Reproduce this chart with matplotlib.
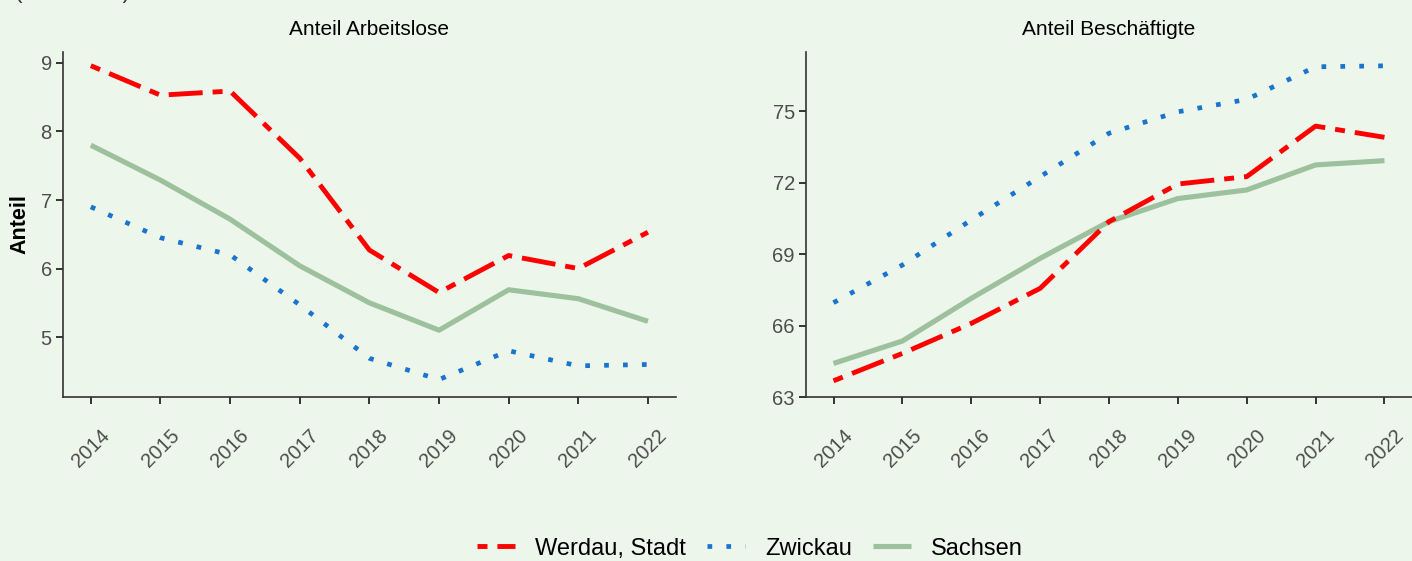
import matplotlib.pyplot as plt
from matplotlib.lines import Line2D
from matplotlib.transforms import ScaledTranslation

plt.rcParams['font.family'] = ['Liberation Sans', 'DejaVu Sans']

years = [2014, 2015, 2016, 2017, 2018, 2019, 2020, 2021, 2022]

# Anteil Arbeitslose
alo_werdau = [8.96, 8.53, 8.59, 7.61, 6.27, 5.65, 6.19, 6.00, 6.53]
alo_zwickau = [6.90, 6.45, 6.20, 5.47, 4.69, 4.38, 4.80, 4.58, 4.60]
alo_sachsen = [7.80, 7.29, 6.72, 6.04, 5.50, 5.10, 5.69, 5.56, 5.23]

# Anteil Beschäftigte
bes_werdau = [63.68, 64.83, 66.09, 67.56, 70.36, 71.94, 72.25, 74.37, 73.90]
bes_zwickau = [66.96, 68.54, 70.43, 72.25, 74.07, 74.97, 75.49, 76.86, 76.90]
bes_sachsen = [64.41, 65.35, 67.14, 68.82, 70.36, 71.33, 71.69, 72.74, 72.92]

series_names = ['Werdau, Stadt', 'Zwickau', 'Sachsen']
titles = ['Anteil Arbeitslose', 'Anteil Beschäftigte']

bg = '#EDF6EB'
red = '#FF0000'
blue = '#1874CD'
green = '#9DC09D'
dark = '#333333'
grey_txt = '#4D4D4D'

# line styles (dash lengths in units of linewidth)
red_style = dict(color=red, lw=3.5, dashes=(2.05, 2.05, 7.0, 2.05), dash_capstyle='butt')
blue_style = dict(color=blue, lw=3.4, dashes=(1, 3.0), dash_capstyle='butt')
green_style = dict(color=green, lw=3.7, solid_capstyle='butt')

fig = plt.figure(figsize=(14.12, 5.61), dpi=100, facecolor=bg)
ax1 = fig.add_axes([0.0446, 0.2923, 0.434, 0.615])
ax2 = fig.add_axes([0.5708, 0.2923, 0.4292, 0.615])

panels = [
    (ax1, alo_werdau, alo_zwickau, alo_sachsen, (4.125, 9.16), [5, 6, 7, 8, 9]),
    (ax2, bes_werdau, bes_zwickau, bes_sachsen, (63.0, 77.48), [63, 66, 69, 72, 75]),
]

shift = ScaledTranslation(-6 / 72, 0, fig.dpi_scale_trans)

for i, (ax, w, z, s, ylim, yticks) in enumerate(panels):
    ax.set_facecolor(bg)
    ax.plot(years, s, zorder=2, **green_style)
    ax.plot(years, z, zorder=3, **blue_style)
    ax.plot(years, w, zorder=4, **red_style)
    ax.set_xlim(2013.6, 2022.4)
    ax.set_ylim(*ylim)
    ax.set_xticks(years)
    ax.set_xticklabels([str(y) for y in years], rotation=45, ha='center', va='top')
    for lab in ax.get_xticklabels():
        lab.set_transform(lab.get_transform() + shift)
    ax.set_yticks(yticks)
    for side in ['top', 'right']:
        ax.spines[side].set_visible(False)
    for side in ['left', 'bottom']:
        ax.spines[side].set_color(dark)
        ax.spines[side].set_linewidth(1.2)
    ax.tick_params(axis='both', colors=dark, labelcolor=grey_txt, labelsize=14.5,
                   length=5, width=1.4)
    ax.tick_params(axis='x', pad=16)
    ax.tick_params(axis='y', pad=3)
    ax.set_title(titles[i], fontsize=15, color='black', pad=12)

ax1.set_ylabel('Anteil', fontsize=15.5, fontweight='bold', labelpad=7)

# caption at the very top edge, mostly outside the figure as in the source
fig.text(0.0105, 1.004, '(in Prozent)', fontsize=16, color=dark, va='baseline', ha='left')

handles = [
    Line2D([], [], **red_style),
    Line2D([], [], **blue_style),
    Line2D([], [], **green_style),
]
fig.legend(handles, series_names, loc='center', bbox_to_anchor=(0.531, 0.022), ncol=3,
           frameon=False, fontsize=17, handlelength=1.6, handletextpad=0.85,
           columnspacing=0.9, borderaxespad=0)

fig.savefig('out.png', dpi=100, facecolor=bg)
